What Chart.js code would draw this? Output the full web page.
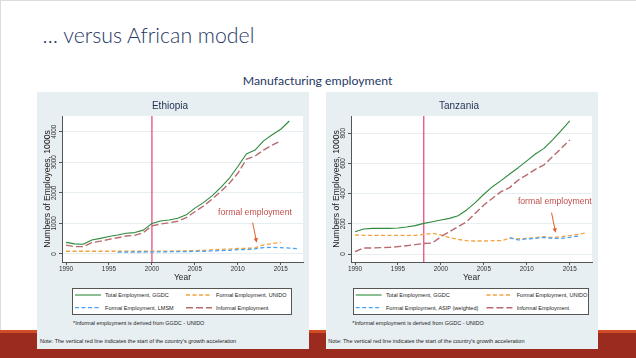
<!DOCTYPE html>
<html><head><meta charset="utf-8">
<script src="https://cdn.jsdelivr.net/npm/chart.js@4.4.1/dist/chart.umd.min.js"></script>
<style>
html,body{margin:0;padding:0}
body{width:636px;height:358px;overflow:hidden;background:#fff;position:relative;font-family:'Liberation Sans',Arial,sans-serif}
.abs{position:absolute;white-space:nowrap}
#frameTop{position:absolute;left:0;top:0;width:636px;height:1px;background:#dcdcdc}
#frameLeft{position:absolute;left:0;top:0;width:1px;height:330px;background:#dcdcdc}
#band{position:absolute;left:0;top:330px;width:636px;height:28px;background:#9c2b1f;border-top:3px solid #d24d26;box-sizing:border-box}
.panel{position:absolute;top:92px;width:272px;height:257px;background:#e8eff2}
.panel canvas{position:absolute;left:0;top:0}
.legbox{position:absolute;top:196px;height:27px;background:#fff;border:1px solid #555;box-sizing:border-box}
.ltxt{position:absolute;white-space:nowrap;color:#222;line-height:10px;height:10px}
</style></head><body>
<div id="frameTop"></div><div id="frameLeft"></div>
<div id="band"></div>
<div id="title" class="abs" style="font-family:Lato,'Open Sans',sans-serif;font-weight:300;color:#1f3864;line-height:30px;height:30px">… versus African model</div>
<div id="sub" class="abs" style="font-family:Lato,'Open Sans',sans-serif;color:#1f3864;line-height:16px;height:16px">Manufacturing employment</div>
<div class="panel" id="p1" style="left:37px"><canvas id="c1" width="272" height="192" style="width:272px;height:192px"></canvas></div>
<div class="panel" id="p2" style="left:326px"><canvas id="c2" width="272" height="192" style="width:272px;height:192px"></canvas></div>
<script>
// ---------------- data ----------------
const years = [1990,1991,1992,1993,1994,1995,1996,1997,1998,1999,2000,2001,2002,2003,2004,2005,2006,2007,2008,2009,2010,2011,2012,2013,2014,2015,2016,2017];
const xTickYears = [1990,1995,2000,2005,2010,2015];
const ethYTicks = [0,1000,2000,3000,4000];
const tzYTicks = [0,200,400,600,800];

const ethTotal    = [380,330,320,460,510,570,620,680,700,780,1000,1080,1110,1170,1280,1500,1680,1900,2170,2470,2860,3270,3400,3700,3900,4080,4350,null];
const ethUnido    = [90,90,90,90,90,90,90,90,90,90,90,95,95,100,105,110,120,140,150,160,180,185,200,300,340,380,null,null];
const ethLmsm     = [null,null,null,null,null,null,60,60,65,65,70,70,75,80,80,85,90,100,110,120,140,140,170,210,215,205,195,175];
const ethInformal = [290,240,240,370,420,480,530,590,610,700,920,980,1020,1070,1190,1380,1570,1790,2040,2310,2640,3100,3200,3400,3560,3700,null,null];

const tzTotal     = [148,166,170,170,170,172,179,188,203,214,225,236,254,292,340,396,446,486,530,572,617,663,700,756,818,882,null,null];
const tzUnido     = [126,124,124,124,124,124,124,124,130,137,126,108,97,88,86,86,88,88,104,100,104,108,115,108,115,122,130,141];
const tzAsip      = [null,null,null,null,null,null,null,null,null,null,null,null,null,null,null,null,null,null,108,93,100,104,110,104,104,110,119,null];
const tzInformal  = [15,40,40,42,44,49,55,62,69,73,115,148,181,214,270,325,369,413,440,490,524,561,590,645,700,756,null,null];

const ethLabels = ['Total Employment, GGDC','Formal Employment, UNIDO','Formal Employment, LMSM','Informal Employment'];
const tzLabels  = ['Total Employment, GGDC','Formal Employment, UNIDO','Formal Employment, ASIP (weighted)','Informal Employment'];
const ethAccelYear = 2000;
const tzAccelYear = 1998;
const annotationText = 'formal employment';
const footnoteText = '*Informal employment is derived from GGDC - UNIDO';
const noteText = "Note: The vertical red line indicates the start of the country's growth acceleration";

// ---------------- styles ----------------
const FONT = "'Liberation Sans', Arial, sans-serif";
const styles = [
  {color:'#2f8a3b', width:1.1, dash:[]},
  {color:'#f4a240', width:1.3, dash:[4,2.5]},
  {color:'#4aa2f4', width:1.3, dash:[4,2.5]},
  {color:'#b86a6f', width:1.4, dash:[7,3]}
];

// ---------------- text helpers ----------------
function fitWidth(el, target){
  el.style.fontSize = '20px';
  const w = el.getBoundingClientRect().width;
  const fs = 20*target/w;
  el.style.fontSize = fs + 'px';
  return fs;
}
function place(el, left, cy, h){
  el.style.left = left + 'px';
  el.style.top = (cy - h/2) + 'px';
}
const t = document.getElementById('title');
fitWidth(t, 212); place(t, 42.6, 35.2, 30);
const s = document.getElementById('sub');
fitWidth(s, 150); s.style.left = (317.7 - 75) + 'px'; s.style.top = (80.8 - 8) + 'px';

// ---------------- plugin ----------------
const decor = {
  id: 'decor',
  beforeDraw(chart){
    const {ctx, chartArea:a} = chart;
    ctx.save(); ctx.fillStyle = '#ffffff';
    ctx.fillRect(a.left, a.top, a.right - a.left, a.bottom - a.top);
    ctx.restore();
  },
  beforeDatasetsDraw(chart, args, o){
    const {ctx, chartArea:a} = chart;
    const x = chart.scales.x.getPixelForValue(o.vline);
    ctx.save(); ctx.strokeStyle = '#e4507c'; ctx.lineWidth = 1.3;
    ctx.beginPath(); ctx.moveTo(x, a.top); ctx.lineTo(x, a.bottom); ctx.stroke(); ctx.restore();
  },
  afterDraw(chart, args, o){
    const {ctx} = chart;
    const xs = chart.scales.x, ys = chart.scales.y;
    // rotated y tick labels
    ctx.save();
    ctx.font = '6.4px ' + FONT; ctx.fillStyle = '#333'; ctx.textAlign = 'center'; ctx.textBaseline = 'middle';
    ys.ticks.forEach(tk => {
      const py = ys.getPixelForValue(tk.value);
      ctx.save(); ctx.translate(o.yTickX, py); ctx.rotate(-Math.PI/2); ctx.fillText(String(tk.value), 0, 0); ctx.restore();
    });
    ctx.restore();
    // annotation
    const n = o.note;
    ctx.save();
    ctx.font = '10px ' + FONT;
    const w10 = ctx.measureText(annotationText).width;
    const fs = 10*74/w10;
    ctx.font = fs + 'px ' + FONT;
    ctx.fillStyle = '#c0504d'; ctx.textAlign = 'center'; ctx.textBaseline = 'middle';
    ctx.fillText(annotationText, xs.getPixelForValue(n.x), ys.getPixelForValue(n.y));
    const x1 = xs.getPixelForValue(n.from[0]), y1 = ys.getPixelForValue(n.from[1]);
    const x2 = xs.getPixelForValue(n.to[0]), y2 = ys.getPixelForValue(n.to[1]);
    const ang = Math.atan2(y2 - y1, x2 - x1);
    ctx.strokeStyle = '#e0602c'; ctx.fillStyle = '#e0602c'; ctx.lineWidth = 1;
    ctx.beginPath(); ctx.moveTo(x1, y1); ctx.lineTo(x2 - 3*Math.cos(ang), y2 - 3*Math.sin(ang)); ctx.stroke();
    ctx.beginPath();
    ctx.moveTo(x2, y2);
    ctx.lineTo(x2 - 4.5*Math.cos(ang) + 2.2*Math.sin(ang), y2 - 4.5*Math.sin(ang) - 2.2*Math.cos(ang));
    ctx.lineTo(x2 - 4.5*Math.cos(ang) - 2.2*Math.sin(ang), y2 - 4.5*Math.sin(ang) + 2.2*Math.cos(ang));
    ctx.closePath(); ctx.fill();
    ctx.restore();
  }
};

function series(arr){ return years.map((yr,i)=>({x:yr, y:arr[i]})); }

function makeChart(id, cfg){
  const datasets = cfg.series.map((arr,i)=>({
    label: cfg.labels[i], data: series(arr),
    borderColor: styles[i].color, backgroundColor: styles[i].color,
    borderWidth: styles[i].width, borderDash: styles[i].dash,
    pointRadius: 0, pointHoverRadius: 0, fill: false, tension: 0,
    borderCapStyle: 'butt', borderJoinStyle: 'round', order: 4 - i
  }));
  return new Chart(document.getElementById(id), {
    type: 'line',
    data: { datasets },
    plugins: [decor],
    options: {
      responsive: false, animation: false, devicePixelRatio: 1,
      layout: { padding: { left: 0, right: 6, top: 0, bottom: 0 } },
      plugins: {
        legend: { display: false }, tooltip: { enabled: false },
        title: { display: true, text: cfg.title, color: '#1e2f4f', font: { family: FONT, size: 10, weight: 'normal' }, padding: { top: 8.7, bottom: 3.3 } },
        decor: { vline: cfg.vline, note: cfg.note, yTickX: 17.5 }
      },
      scales: {
        x: {
          type: 'linear', min: 1989.53, max: 2017.59,
          afterBuildTicks: sc => { sc.ticks = xTickYears.map(v => ({ value: v })); },
          afterFit: sc => { sc.height = 22; },
          ticks: { font: { family: FONT, size: 6.4 }, color: '#333', padding: 0.5, maxRotation: 0, minRotation: 0, autoSkip: false, callback: v => String(v) },
          grid: { drawOnChartArea: false, tickColor: '#555', tickLength: 3 },
          border: { color: '#555', width: 1 },
          title: { display: true, text: 'Year', color: '#222', font: { family: FONT, size: 8.4 }, padding: { top: 0, bottom: 1.6 } }
        },
        y: {
          type: 'linear', min: cfg.ymin, max: cfg.ymax,
          afterBuildTicks: sc => { sc.ticks = cfg.yticks.map(v => ({ value: v })); },
          afterFit: sc => { sc.width = 25; },
          ticks: { display: false },
          grid: { color: '#e6eef1', lineWidth: 1, tickColor: '#555', tickLength: 3 },
          border: { color: '#555', width: 1 },
          title: { display: true, text: 'Numbers of Employees, 1000s', color: '#222', font: { family: FONT, size: 8.6 }, padding: { top: 5.4, bottom: 0 } }
        }
      }
    }
  });
}

makeChart('c1', {
  title: 'Ethiopia', series: [ethTotal, ethUnido, ethLmsm, ethInformal], labels: ethLabels,
  ymin: -262, ymax: 4513, yticks: ethYTicks, vline: ethAccelYear,
  note: { x: 2012.0, y: 1351, from: [2011.73, 1024], to: [2012.2, 370] }
});
makeChart('c2', {
  title: 'Tanzania', series: [tzTotal, tzUnido, tzAsip, tzInformal], labels: tzLabels,
  ymin: -53, ymax: 914.5, yticks: tzYTicks, vline: tzAccelYear,
  note: { x: 2013.26, y: 346.6, from: [2012.88, 273.7], to: [2013.35, 141] }
});

// ---------------- legends & notes ----------------
function legend(panelId, labels, box){
  const p = document.getElementById(panelId);
  const lb = document.createElement('div');
  lb.className = 'legbox'; lb.style.left = box.left + 'px'; lb.style.width = box.width + 'px';
  p.appendChild(lb);
  const svgNS = 'http://www.w3.org/2000/svg';
  const svg = document.createElementNS(svgNS, 'svg');
  svg.setAttribute('width', box.width); svg.setAttribute('height', 27);
  svg.style.position = 'absolute'; svg.style.left = '-1px'; svg.style.top = '-1px';
  lb.appendChild(svg);
  const cells = [[0,0],[1,0],[0,1],[1,1]];
  const rows = [7, 19.7];
  let fs = null;
  labels.forEach((lab, i) => {
    const [c, r] = cells[i];
    const x0 = box.cols[c];
    const ln = document.createElementNS(svgNS, 'line');
    ln.setAttribute('x1', x0); ln.setAttribute('x2', x0 + 26);
    ln.setAttribute('y1', rows[r]); ln.setAttribute('y2', rows[r]);
    ln.setAttribute('stroke', styles[i].color); ln.setAttribute('stroke-width', styles[i].width);
    if (styles[i].dash.length) ln.setAttribute('stroke-dasharray', styles[i].dash.join(' '));
    svg.appendChild(ln);
    const tx = document.createElement('div');
    tx.className = 'ltxt'; tx.textContent = lab;
    lb.appendChild(tx);
    if (fs === null) fs = fitWidth(tx, 64);
    tx.style.fontSize = fs + 'px';
    tx.style.left = (x0 + 30 - 1) + 'px';
    tx.style.top = (rows[r] - 1 - 5) + 'px';
  });
}
legend('p1', ethLabels, { left: 35, width: 220, cols: [3, 114] });
legend('p2', tzLabels,  { left: 27.3, width: 236, cols: [2.7, 133.4] });

function notes(panelId, fnLeft, noteLeft){
  const p = document.getElementById(panelId);
  const f = document.createElement('div'); f.className = 'ltxt'; f.textContent = footnoteText; p.appendChild(f);
  fitWidth(f, 131.7); place(f, fnLeft, 231.3, 10);
  const n = document.createElement('div'); n.className = 'ltxt'; n.textContent = noteText; p.appendChild(n);
  fitWidth(n, 196.7); place(n, noteLeft, 249, 10);
}
notes('p1', 36, 3);
notes('p2', 26.3, 2.3);
</script>
</body></html>
